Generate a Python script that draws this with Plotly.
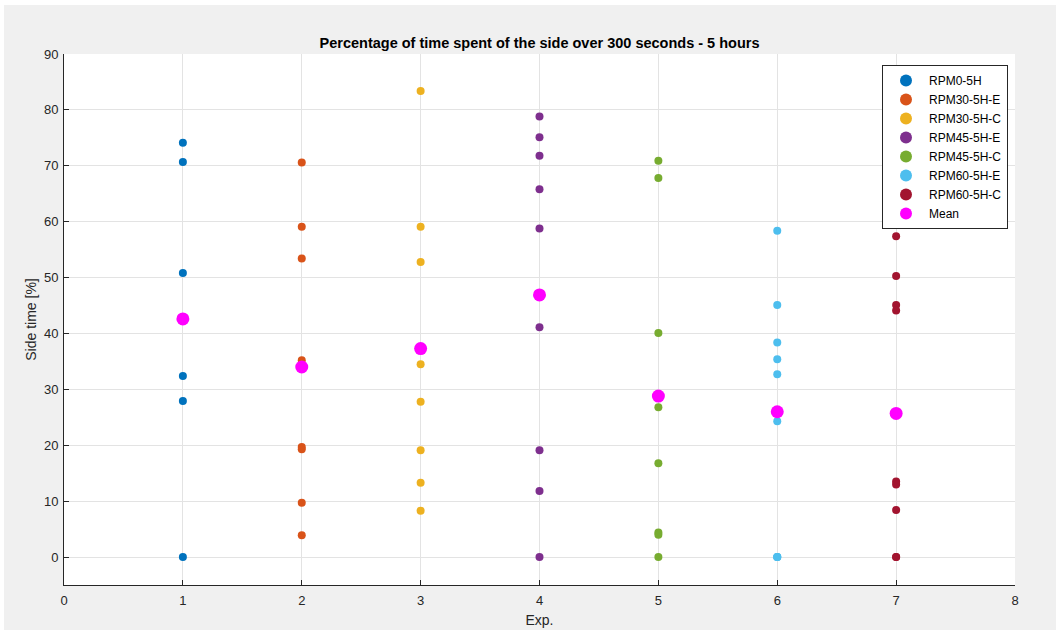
import plotly.graph_objects as go

series_names = ["RPM0-5H", "RPM30-5H-E", "RPM30-5H-C", "RPM45-5H-E",
                "RPM45-5H-C", "RPM60-5H-E", "RPM60-5H-C"]
exp_index = [1, 2, 3, 4, 5, 6, 7]
exp1 = [74.1, 70.7, 50.8, 32.4, 27.9, 0]
exp2 = [70.6, 59.1, 53.4, 35.2, 19.7, 19.3, 9.7, 3.9]
exp3 = [83.4, 59.1, 52.8, 34.5, 27.8, 19.1, 13.3, 8.3]
exp4 = [78.8, 75.1, 71.8, 65.8, 58.8, 41.1, 19.1, 11.8, 0]
exp5 = [70.9, 67.8, 40.1, 26.8, 16.8, 4.4, 4.0, 0]
exp6 = [58.4, 45.1, 38.4, 35.4, 32.7, 24.3, 0, 0, 0]
exp7 = [57.4, 50.3, 45.1, 44.1, 13.5, 13.0, 8.4, 0, 0]
means = [42.6, 34.0, 37.3, 46.9, 28.8, 26.0, 25.7]
x_ticks = [0, 1, 2, 3, 4, 5, 6, 7, 8]
y_ticks = [0, 10, 20, 30, 40, 50, 60, 70, 80, 90]

colors = ["#0072BD", "#D95319", "#EDB120", "#7E2F8E", "#77AC30", "#4DBEEE", "#A2142F"]
mean_color = "#FF00FF"

all_series = [exp1, exp2, exp3, exp4, exp5, exp6, exp7]

fig = go.Figure()
for name, xi, vals, c in zip(series_names, exp_index, all_series, colors):
    fig.add_trace(go.Scatter(
        x=[xi] * len(vals), y=vals, mode="markers", name=name,
        marker=dict(color=c, size=8, line=dict(width=0)),
    ))
fig.add_trace(go.Scatter(
    x=exp_index, y=means, mode="markers", name="Mean",
    marker=dict(color=mean_color, size=13, line=dict(width=0)),
))

L, R, T, B = 64, 41, 54, 45
W, H = 1056, 630
pw, ph = W - L - R, H - T - B

axis_common = dict(
    showgrid=True, gridcolor="#e3e3e3", gridwidth=1,
    zeroline=False, showline=True, linecolor="#262626", linewidth=1,
    ticks="inside", ticklen=5, tickcolor="#262626",
    tickfont=dict(family="Liberation Sans, Arial", size=13, color="#262626"),
    mirror=False, automargin=False,
)

fig.update_layout(
    width=W, height=H,
    margin=dict(l=L, r=R, t=T, b=B, pad=0, autoexpand=False),
    paper_bgcolor="#f0f0f0", plot_bgcolor="#ffffff",
    title=dict(
        text="<b>Percentage of time spent of the side over 300 seconds - 5 hours</b>",
        x=(L + pw / 2) / W, xanchor="center", y=1 - 43 / H, yanchor="middle",
        font=dict(family="Liberation Sans, Arial", size=14.5, color="#000000"),
        automargin=False,
    ),
    xaxis=dict(range=[0, 8], tickvals=x_ticks, ticklabelstandoff=3, title=dict(
        text="Exp.", standoff=8,
        font=dict(family="Liberation Sans, Arial", size=14, color="#262626")),
        **axis_common),
    yaxis=dict(range=[-5, 90], tickvals=y_ticks, ticklabelstandoff=2, title=dict(
        text="Side time [%]", standoff=4,
        font=dict(family="Liberation Sans, Arial", size=14, color="#262626")),
        **axis_common),
    legend=dict(
        x=(882 - L) / pw, xanchor="left", y=(H - B - 65) / ph, yanchor="top",
        bgcolor="#ffffff", bordercolor="#262626", borderwidth=1,
        font=dict(family="Liberation Sans, Arial", size=12, color="#000000"),
        itemsizing="constant", tracegroupgap=0, itemwidth=36,
    ),
    showlegend=True,
)

# white frame edges like the screenshot border
fig.add_shape(type="rect", xref="paper", yref="paper",
              x0=-L / pw, x1=(-L + 4) / pw, y0=-B / ph, y1=(ph + T) / ph,
              fillcolor="#ffffff", line=dict(width=0), layer="below")
fig.add_shape(type="rect", xref="paper", yref="paper",
              x0=-L / pw, x1=(pw + R) / pw, y0=(ph + T - 5) / ph, y1=(ph + T) / ph,
              fillcolor="#ffffff", line=dict(width=0), layer="below")

fig.write_html("out.html")
